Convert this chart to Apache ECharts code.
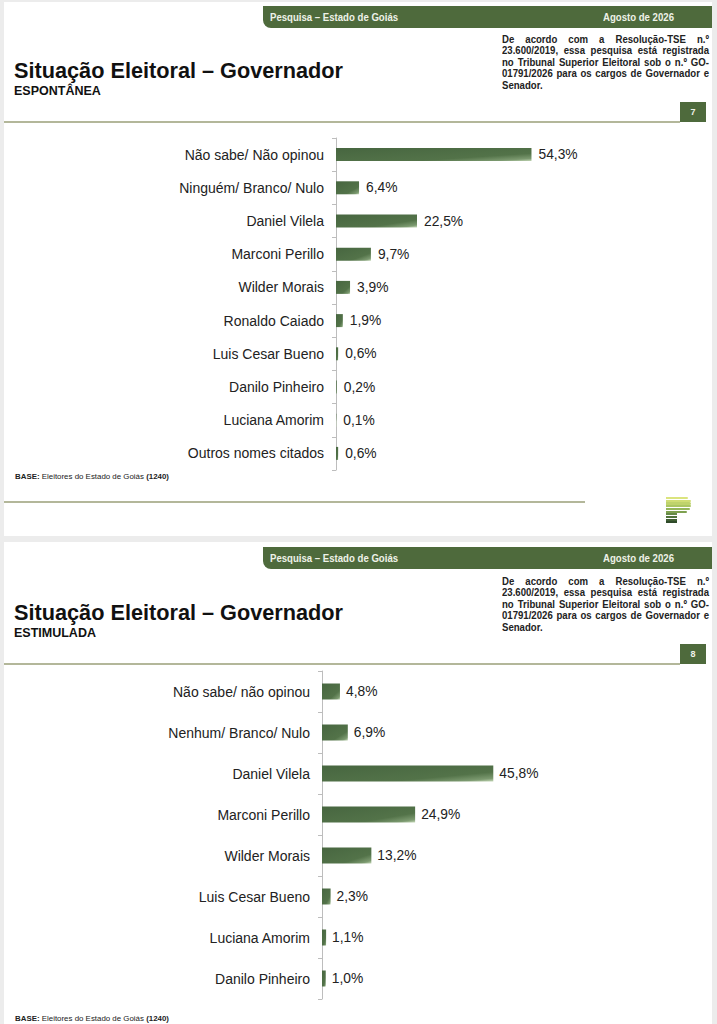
<!DOCTYPE html>
<html><head><meta charset="utf-8">
<script src="https://cdn.jsdelivr.net/npm/echarts@6/dist/echarts.min.js"></script>
<style>
html,body{margin:0;padding:0;width:717px;height:1024px;background:#ececec;overflow:hidden;font-family:"Liberation Sans",Arial,sans-serif;}
.slide{position:absolute;left:4px;width:708px;background:#fff;}
.hdr{position:absolute;left:263px;width:449px;height:22px;background:#4e6a3c;border-bottom-left-radius:8px;color:#eef2e8;font-weight:bold;font-size:11.3px;line-height:22px;}
.hdr span{position:absolute;top:0;white-space:nowrap;transform:scaleX(0.85);transform-origin:left top;}
.hdr .l{left:7px;}
.hdr .r{left:340px;}
.title{position:absolute;left:14px;font-size:21.7px;line-height:21.7px;font-weight:bold;color:#111;white-space:nowrap;}
.sub{position:absolute;left:14px;font-size:12.5px;line-height:12.5px;font-weight:bold;color:#111;white-space:nowrap;}
.para{position:absolute;left:502px;width:243.5px;font-size:11.3px;font-weight:bold;color:#222;line-height:11.5px;transform:scaleX(0.85);transform-origin:left top;}
.para div{height:11.5px;text-align:justify;text-align-last:justify;white-space:nowrap;}
.para div.last{text-align-last:left;}
.sep{position:absolute;left:4px;width:676px;height:2px;background:#b3b79a;}
.pg{position:absolute;left:680px;width:26px;height:20px;background:#4e6a3c;color:#eef2e8;font-size:9px;font-weight:bold;text-align:center;line-height:20px;}
.base{position:absolute;left:15px;font-size:7.9px;color:#222;white-space:nowrap;}
.logo div{position:absolute;height:2.2px;}
#chart{position:absolute;left:0;top:0;width:717px;height:1024px;}
</style></head>
<body>
<div class="slide" style="top:2px;height:534px;"></div>
<div class="slide" style="top:542px;height:482px;"></div>

<!-- Slide 1 chrome -->
<div class="hdr" style="top:6px;"><span class="l">Pesquisa – Estado de Goiás</span><span class="r">Agosto de 2026</span></div>
<div class="title" style="top:59.6px;">Situação Eleitoral – Governador</div>
<div class="sub" style="top:85px;">ESPONTÂNEA</div>
<div class="para" style="top:33.7px;">
<div>De acordo com a Resolução-TSE n.º</div>
<div>23.600/2019, essa pesquisa está registrada</div>
<div>no Tribunal Superior Eleitoral sob o n.º GO-</div>
<div>01791/2026 para os cargos de Governador e</div>
<div class="last">Senador.</div>
</div>
<div class="sep" style="top:121px;"></div>
<div class="pg" style="top:102px;">7</div>
<div class="base" style="top:472px;"><b>BASE:</b> Eleitores do Estado de Goiás <b>(1240)</b></div>
<div class="sep" style="top:501px;width:581px;"></div>
<div class="logo" id="logo1"></div>

<!-- Slide 2 chrome -->
<div class="hdr" style="top:547px;"><span class="l">Pesquisa – Estado de Goiás</span><span class="r">Agosto de 2026</span></div>
<div class="title" style="top:601.6px;">Situação Eleitoral – Governador</div>
<div class="sub" style="top:627px;">ESTIMULADA</div>
<div class="para" style="top:575.7px;">
<div>De acordo com a Resolução-TSE n.º</div>
<div>23.600/2019, essa pesquisa está registrada</div>
<div>no Tribunal Superior Eleitoral sob o n.º GO-</div>
<div>01791/2026 para os cargos de Governador e</div>
<div class="last">Senador.</div>
</div>
<div class="sep" style="top:663px;"></div>
<div class="pg" style="top:644px;">8</div>
<div class="base" style="top:1014px;"><b>BASE:</b> Eleitores do Estado de Goiás <b>(1240)</b></div>

<div id="chart"></div>
<script>
// ---- Data ----
const categories1 = ['Não sabe/ Não opinou','Ninguém/ Branco/ Nulo','Daniel Vilela','Marconi Perillo','Wilder Morais','Ronaldo Caiado','Luis Cesar Bueno','Danilo Pinheiro','Luciana Amorim','Outros nomes citados'];
const values1 = [54.3, 6.4, 22.5, 9.7, 3.9, 1.9, 0.6, 0.2, 0.1, 0.6];
const categories2 = ['Não sabe/ não opinou','Nenhum/ Branco/ Nulo','Daniel Vilela','Marconi Perillo','Wilder Morais','Luis Cesar Bueno','Luciana Amorim','Danilo Pinheiro'];
const values2 = [4.8, 6.9, 45.8, 24.9, 13.2, 2.3, 1.1, 1.0];

// logo stripes
(function(){
  const logo = document.getElementById('logo1');
  const cols = ['#dbe47e','#cfdd74','#bfd36c','#abc663','#95b65a','#7ea150','#668a46','#51733c','#3f5e33','#2f4a2a'];
  const widths = [22,25,25,25,24,21,11,11,11,11];
  cols.forEach((c,i)=>{
    const d=document.createElement('div');
    d.style.left='666px'; d.style.top=(497+i*2.7)+'px'; d.style.width=widths[i]+'px'; d.style.background=c;
    if(i<6) d.style.borderRadius='0 4px 4px 0';
    logo.appendChild(d);
  });
})();

const fmt = p => p.value.toFixed(1).replace('.', ',') + '%';
const barColor = new echarts.graphic.LinearGradient(0,0,1,1,[
  {offset:0,color:'#476640'},{offset:0.7,color:'#537349'},{offset:0.9,color:'#7c9a70'},{offset:1,color:'#c6d9b9'}
]);
const font = '"Liberation Sans", Arial, sans-serif';

const chart = echarts.init(document.getElementById('chart'), null, {renderer:'svg'});
function yAx(idx, cats){
  return {
    type:'category', gridIndex:idx, data:cats, inverse:true,
    axisLine:{lineStyle:{color:'#bdbdbd', width:1}},
    axisTick:{show:true, length:4, lineStyle:{color:'#bdbdbd'}},
    axisLabel:{fontSize:14, color:'#222', margin:12, fontFamily:font}
  };
}
chart.setOption({
  animation:false,
  backgroundColor:'transparent',
  grid:[
    {left:336, top:138, width:216, height:332},
    {left:322, top:671, width:187, height:328}
  ],
  xAxis:[
    {type:'value', gridIndex:0, min:0, max:60, show:false},
    {type:'value', gridIndex:1, min:0, max:50, show:false}
  ],
  yAxis:[yAx(0, categories1), yAx(1, categories2)],
  series:[
    {type:'bar', xAxisIndex:0, yAxisIndex:0, data:values1, barWidth:13,
     itemStyle:{color:barColor},
     label:{show:true, position:'right', distance:7, formatter:fmt, fontSize:13.8, color:'#222', fontFamily:font}},
    {type:'bar', xAxisIndex:1, yAxisIndex:1, data:values2, barWidth:16,
     itemStyle:{color:barColor},
     label:{show:true, position:'right', distance:6, formatter:fmt, fontSize:13.8, color:'#222', fontFamily:font}}
  ]
});
</script>
</body></html>
